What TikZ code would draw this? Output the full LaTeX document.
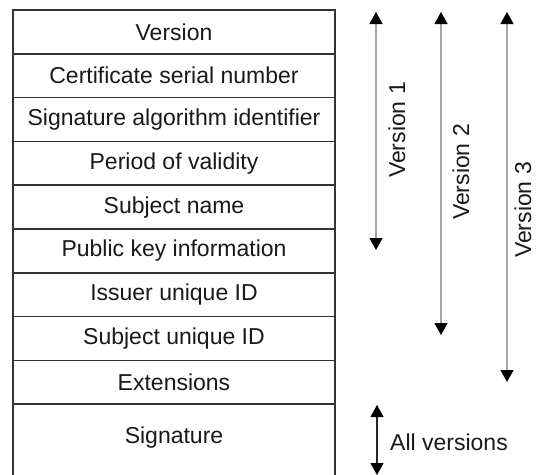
\documentclass[tikz,border=0pt]{standalone}
\usepackage{fontspec}
\setmainfont{Liberation Sans}
\usetikzlibrary{arrows.meta}
\begin{document}
\begin{tikzpicture}[x=1pt,y=-1pt,
  every node/.style={font=\fontsize{23}{27}\selectfont, text=black!90},
  rowbox/.style={draw=black!80, line width=1.6pt, minimum width=322pt, minimum height=43.8pt, inner sep=0pt},
  plain/.style={inner sep=0pt},
  grayarrow/.style={draw=black!35, line width=1.3pt, {Triangle[width=13pt,length=12pt,black]}-{Triangle[width=13pt,length=12pt,black]}},
  blackarrow/.style={draw=black!85, line width=1.1pt, {Triangle[width=13pt,length=12pt,black]}-{Triangle[width=13pt,length=12pt,black]}}
]
\useasboundingbox (0,0) rectangle (537,474);
\fill[white] (0,0) rectangle (537,474);
% rows
\node[rowbox] (r1) at (174,31.9) {Version};
\node[rowbox] (r2) at (174,75.7) {Certificate serial number};
\node[rowbox] (r3) at (174,119.5) {Signature algorithm identifier};
\node[rowbox] (r4) at (174,163.3) {Period of validity};
\node[rowbox] (r5) at (174,207.1) {Subject name};
\node[rowbox] (r6) at (174,250.9) {Public key information};
\node[rowbox] (r7) at (174,294.7) {Issuer unique ID};
\node[rowbox] (r8) at (174,338.5) {Subject unique ID};
\node[rowbox] (r9) at (174,382.3) {Extensions};
\node[rowbox, minimum height=76pt] (r10) at (174,442.2) {};
\node[plain] (sigtext) at (174,438) {Signature};
% arrows
\coordinate (v1t) at (376,12);
\coordinate (v1b) at (376,250);
\coordinate (v2t) at (441,12);
\coordinate (v2b) at (441,335);
\coordinate (v3t) at (507,12);
\coordinate (v3b) at (507,382);
\coordinate (avt) at (377,405);
\coordinate (avb) at (377,475);
\draw[grayarrow] (v1t) -- (v1b);
\draw[grayarrow] (v2t) -- (v2b);
\draw[grayarrow] (v3t) -- (v3b);
\draw[blackarrow] (avt) -- (avb);
\node[plain, rotate=90] (l1) at (397,130) {Version 1};
\node[plain, rotate=90] (l2) at (461,172) {Version 2};
\node[plain, rotate=90] (l3) at (523,210) {Version 3};
\node[plain, anchor=west] (lall) at (390,442) {All versions};
\end{tikzpicture}
\end{document}
